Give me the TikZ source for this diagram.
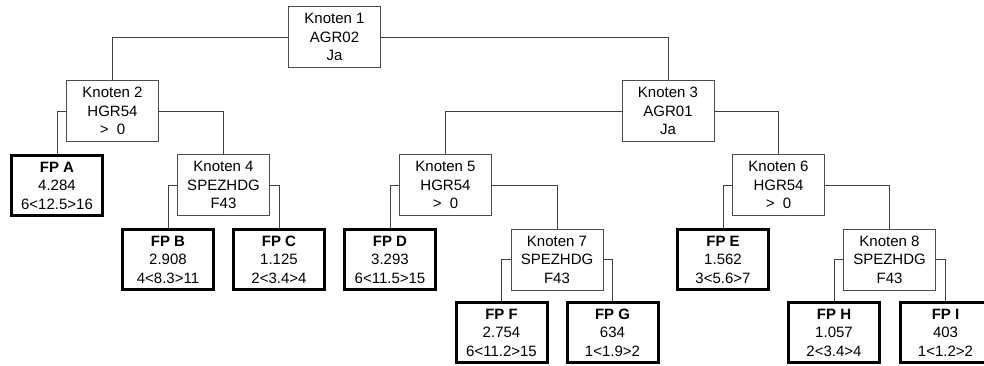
\documentclass[tikz,border=0pt]{standalone}
\usepackage{fontspec}
\setmainfont{Liberation Sans}
\begin{document}
\begin{tikzpicture}[x=1pt,y=-1pt,
  every node/.style={font=\fontsize{15}{18.5}\selectfont, align=center, inner sep=0pt},
  inner/.style={draw=black!70, line width=1pt, fill=white, minimum width=92pt, minimum height=61pt},
  leaf/.style={draw=black, line width=3pt, fill=white, minimum width=91pt, minimum height=60pt},
  conn/.style={draw=black!75, line width=1pt}]
\useasboundingbox (0,0) rectangle (984,365);
\clip (0,0) rectangle (984,365);
\node[inner] (n1) at (334.5,37) {Knoten 1\\AGR02\\Ja};
\node[inner] (n2) at (112.5,111) {Knoten 2\\HGR54\\>\ \ 0};
\node[inner] (n3) at (668,111) {Knoten 3\\AGR01\\Ja};
\node[leaf] (fa) at (57,185.5) {\textbf{FP A}\\4.284\\6<12.5>16};
\node[inner] (n4) at (223.5,185) {Knoten 4\\SPEZHDG\\F43};
\node[inner] (n5) at (445.5,185) {Knoten 5\\HGR54\\>\ \ 0};
\node[inner] (n6) at (778.5,185) {Knoten 6\\HGR54\\>\ \ 0};
\node[leaf] (fb) at (168,259.5) {\textbf{FP B}\\2.908\\4<8.3>11};
\node[leaf] (fc) at (279,259.5) {\textbf{FP C}\\1.125\\2<3.4>4};
\node[leaf] (fd) at (390,259.5) {\textbf{FP D}\\3.293\\6<11.5>15};
\node[inner] (n7) at (557,259.5) {Knoten 7\\SPEZHDG\\F43};
\node[leaf] (fe) at (723,259.5) {\textbf{FP E}\\1.562\\3<5.6>7};
\node[inner] (n8) at (889.5,259.5) {Knoten 8\\SPEZHDG\\F43};
\node[leaf] (ff) at (501.5,332.5) {\textbf{FP F}\\2.754\\6<11.2>15};
\node[leaf] (fg) at (612.5,332.5) {\textbf{FP G}\\634\\1<1.9>2};
\node[leaf] (fh) at (834,332.5) {\textbf{FP H}\\1.057\\2<3.4>4};
\node[leaf] (fi) at (945.5,332.5) {\textbf{FP I}\\403\\1<1.2>2};
\path[conn] (n1.west) -| (n2.north);
\path[conn] (n1.east) -| (n3.north);
\path[conn] (n2.west) -| (fa.north);
\path[conn] (n2.east) -| (n4.north);
\path[conn] (n3.west) -| (n5.north);
\path[conn] (n3.east) -| (n6.north);
\path[conn] (n4.west) -| (fb.north);
\path[conn] (n4.east) -| (fc.north);
\path[conn] (n5.west) -| (fd.north);
\path[conn] (n5.east) -| (n7.north);
\path[conn] (n6.west) -| (fe.north);
\path[conn] (n6.east) -| (n8.north);
\path[conn] (n7.west) -| (ff.north);
\path[conn] (n7.east) -| (fg.north);
\path[conn] (n8.west) -| (fh.north);
\path[conn] (n8.east) -| (fi.north);
\end{tikzpicture}
\end{document}
